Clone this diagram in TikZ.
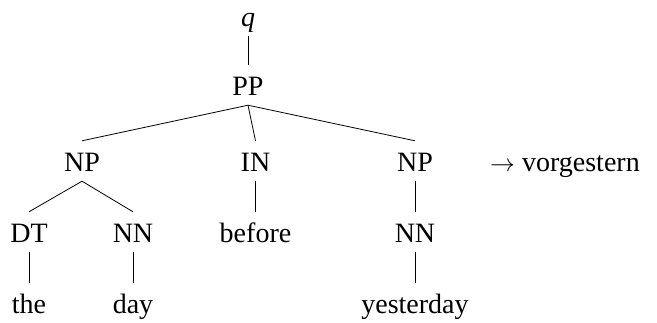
\documentclass[tikz,border=0pt]{standalone}
\usepackage{fontspec}
\setmainfont{Liberation Serif}
\begin{document}
\begin{tikzpicture}[x=1pt,y=-1pt,
  lbl/.style={font=\fontsize{28}{34}\selectfont, inner xsep=0pt, inner ysep=8pt,
    text height=22pt, text depth=2pt, anchor=base},
  edge/.style={line width=0.8pt}]
\useasboundingbox (0,0) rectangle (657,322);
\node[lbl] (q) at (248,26) {\itshape q};
\node[lbl] (pp) at (248,95) {PP};
\node[lbl] (np1) at (82,171) {NP};
\node[lbl] (in) at (255.5,171) {IN};
\node[lbl] (np2) at (415,171) {NP};
\node[lbl, anchor=base west] (tr) at (490,171) {$\rightarrow$ vorgestern};
\node[lbl] (dt) at (29,242) {DT};
\node[lbl] (nn1) at (133,242) {NN};
\node[lbl] (bf) at (255.5,242) {before};
\node[lbl] (nn2) at (415,242) {NN};
\node[lbl] (the) at (29,313) {the};
\node[lbl] (day) at (133,313) {day};
\node[lbl] (yd) at (415,313) {yesterday};
\draw[edge] (q.south) -- (pp.north);
\draw[edge] (pp.south) -- (np1.north);
\draw[edge] (pp.south) -- (in.north);
\draw[edge] (pp.south) -- (np2.north);
\draw[edge] (np1.south) -- (dt.north);
\draw[edge] (np1.south) -- (nn1.north);
\draw[edge] (in.south) -- (bf.north);
\draw[edge] (np2.south) -- (nn2.north);
\draw[edge] (dt.south) -- (the.north);
\draw[edge] (nn1.south) -- (day.north);
\draw[edge] (nn2.south) -- (yd.north);
\end{tikzpicture}
\end{document}
